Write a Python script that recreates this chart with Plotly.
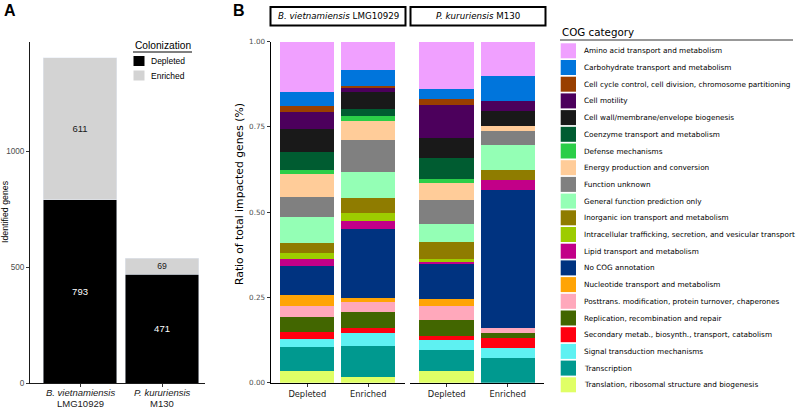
import plotly.graph_objects as go

W, H = 796, 409

# ---------------- DATA ----------------
species = ["B. vietnamiensis LMG10929", "P. kururiensis M130"]
species_italic = ["B. vietnamiensis", "P. kururiensis"]
species_strain = ["LMG10929", "M130"]
depleted_genes = [793, 471]
enriched_genes = [611, 69]

conditions = ["Depleted", "Enriched"]

cog_categories = [
    "Amino acid transport and metabolism",
    "Carbohydrate transport and metabolism",
    "Cell cycle control, cell division, chromosome partitioning",
    "Cell motility",
    "Cell wall/membrane/envelope biogenesis",
    "Coenzyme transport and metabolism",
    "Defense mechanisms",
    "Energy production and conversion",
    "Function unknown",
    "General function prediction only",
    "Inorganic ion transport and metabolism",
    "Intracellular trafficking, secretion, and vesicular transport",
    "Lipid transport and metabolism",
    "No COG annotation",
    "Nucleotide transport and metabolism",
    "Posttrans. modification, protein turnover, chaperones",
    "Replication, recombination and repair",
    "Secondary metab., biosynth., transport, catabolism",
    "Signal transduction mechanisms",
    "Transcription",
    "Translation, ribosomal structure and biogenesis",
]
cog_colors = [
    "#F0A0FF", "#0075DC", "#993F00", "#4C005C", "#191919", "#005C31",
    "#2BCE48", "#FFCC99", "#808080", "#94FFB5", "#8F7C00", "#9DCC00",
    "#C20088", "#003380", "#FFA405", "#FFA8BB", "#426600", "#FF0010",
    "#5EF1F2", "#00998F", "#E0FF66",
]
# gene counts per COG category (same order as cog_categories)
bv_depleted = [117, 33, 13, 41, 52, 42, 10, 53, 46, 62, 23, 13, 17, 67, 25, 25, 36, 17, 18, 56, 27]
bv_enriched = [51, 29, 2, 9, 29, 13, 10, 34, 56, 48, 26, 15, 13, 125, 7, 17, 28, 10, 23, 56, 10]
pk_depleted = [65, 14, 9, 45, 28, 29, 5, 24, 33, 24, 24, 4, 3, 49, 9, 19, 22, 6, 14, 29, 16]
pk_enriched = [7, 5, 0, 2, 3, 0, 0, 1, 3, 5, 2, 0, 2, 28, 0, 1, 1, 2, 2, 5, 0]

colonization = ["Depleted", "Enriched"]
colonization_colors = ["#000000", "#D3D3D3"]

# ---------------- helpers ----------------
def px(x):
    return x / W

def py(y):
    return 1 - y / H

FA = "Liberation Sans, Arial, sans-serif"
FB = "DejaVu Sans, Verdana, sans-serif"

fig = go.Figure()

# ---------------- Panel A ----------------
fig.add_trace(go.Bar(
    x=species, y=depleted_genes, marker_color=colonization_colors[0],
    text=[str(v) for v in depleted_genes], textposition="inside",
    insidetextanchor="middle", textangle=0,
    textfont=dict(color="white", size=9.5, family=FA),
    width=0.9, xaxis="x", yaxis="y", showlegend=False, hoverinfo="skip",
))
fig.add_trace(go.Bar(
    x=species, y=enriched_genes, marker_color=colonization_colors[1],
    text=[str(v) for v in enriched_genes], textposition="inside",
    insidetextanchor="middle", textangle=0,
    textfont=dict(color="#1a1a1a", size=9.5, family=FA),
    width=0.9, xaxis="x", yaxis="y", showlegend=False, hoverinfo="skip",
))

# ---------------- Panel B ----------------
tot_bvd, tot_bve = sum(bv_depleted), sum(bv_enriched)
tot_pkd, tot_pke = sum(pk_depleted), sum(pk_enriched)
n = len(cog_categories)
for i in reversed(range(n)):
    fig.add_trace(go.Bar(
        x=conditions,
        y=[bv_depleted[i] / tot_bvd, bv_enriched[i] / tot_bve],
        marker=dict(color=cog_colors[i], line=dict(width=0)),
        width=0.89, xaxis="x2", yaxis="y2", showlegend=False,
        name=cog_categories[i],
    ))
    fig.add_trace(go.Bar(
        x=conditions,
        y=[pk_depleted[i] / tot_pkd, pk_enriched[i] / tot_pke],
        marker=dict(color=cog_colors[i], line=dict(width=0)),
        width=0.89, xaxis="x3", yaxis="y3", showlegend=False,
        name=cog_categories[i],
    ))

axis_common = dict(showgrid=False, zeroline=False, showline=True, automargin=False,
                   ticks="outside", ticklen=3, tickcolor="#333333")

fig.update_layout(
    width=W, height=H,
    margin=dict(l=0, r=0, t=0, b=0, autoexpand=False),
    paper_bgcolor="white", plot_bgcolor="white",
    barmode="stack",
    xaxis=dict(domain=[px(30), px(205)], anchor="y", type="category",
               range=[-0.61, 1.524], tickvals=species, showticklabels=False,
               linecolor="#1a1a1a", linewidth=1, **axis_common),
    yaxis=dict(domain=[py(383.3), py(41.7)], anchor="x", range=[0, 1474],
               tickvals=[0, 500, 1000], linecolor="#1a1a1a", linewidth=1,
               tickfont=dict(family=FA, size=8.2, color="#4D4D4D"), **axis_common),
    xaxis2=dict(domain=[px(270.7), px(404.8)], anchor="y2", type="category",
                range=[-0.6, 1.6], linecolor="black", linewidth=1.3,
                tickfont=dict(family=FB, size=8.3, color="#1a1a1a"), **axis_common),
    yaxis2=dict(domain=[py(382.8), py(41.5)], anchor="x2", range=[0, 1],
                tickvals=[0, 0.25, 0.5, 0.75, 1.0],
                ticktext=["0.00", "0.25", "0.50", "0.75", "1.00"],
                linecolor="black", linewidth=1.3,
                tickfont=dict(family=FB, size=7.2, color="#4D4D4D"), **axis_common),
    xaxis3=dict(domain=[px(410), px(544.4)], anchor="y3", type="category",
                range=[-0.6, 1.6], linecolor="black", linewidth=1.3,
                tickfont=dict(family=FB, size=8.3, color="#1a1a1a"), **axis_common),
    yaxis3=dict(domain=[py(382.8), py(41.5)], anchor="x3", range=[0, 1],
                showline=False, showticklabels=False, ticks="", showgrid=False,
                zeroline=False, automargin=False),
)

ann = []
shapes = []

# panel letters
ann.append(dict(text="<b>A</b>", x=px(2), y=py(11), xanchor="left", yanchor="middle",
                font=dict(family=FA, size=16, color="black")))
ann.append(dict(text="<b>B</b>", x=px(231), y=py(11), xanchor="left", yanchor="middle",
                font=dict(family=FA, size=16, color="black")))

# Panel A category labels (two lines)
for k, (it, st) in enumerate(zip(species_italic, species_strain)):
    xc = 30 + (0.61 + k) * 82.0
    ann.append(dict(text="<i>" + it + "</i>", x=px(xc), y=py(392), xanchor="center",
                    yanchor="middle", font=dict(family=FA, size=9.5, color="#1a1a1a")))
    ann.append(dict(text=st, x=px(xc), y=py(403), xanchor="center",
                    yanchor="middle", font=dict(family=FA, size=9.5, color="#1a1a1a")))

# axis titles
ann.append(dict(text="Identified genes", x=px(5), y=py(212), textangle=-90,
                xanchor="center", yanchor="middle",
                font=dict(family=FA, size=8.8, color="black")))
ann.append(dict(text="Ratio of total impacted genes (%)", x=px(239), y=py(194),
                textangle=-90, xanchor="center", yanchor="middle",
                font=dict(family=FB, size=10.8, color="black")))

# Panel A legend
ann.append(dict(text="Colonization", x=px(133), y=py(46), xanchor="left", yanchor="middle",
                font=dict(family=FA, size=10.2, color="black")))
shapes.append(dict(type="line", xref="paper", yref="paper", x0=px(133), x1=px(192),
                   y0=py(52), y1=py(52), line=dict(color="black", width=1)))
for j, (lab, col) in enumerate(zip(colonization, colonization_colors)):
    cy = 61 + j * 14.5
    shapes.append(dict(type="rect", xref="paper", yref="paper", x0=px(133.5), x1=px(144.5),
                       y0=py(cy - 5), y1=py(cy + 5), fillcolor=col, line=dict(width=0)))
    ann.append(dict(text=lab, x=px(148.5), y=py(cy), xanchor="left", yanchor="middle",
                    font=dict(family=FA, size=8.5, color="black")))

# facet strips
strips = [("<i>B. vietnamiensis</i> LMG10929", 270.5, 405.5),
          ("<i>P. kururiensis</i> M130", 410.5, 545.5)]
for lab, x0, x1 in strips:
    shapes.append(dict(type="rect", xref="paper", yref="paper", x0=px(x0), x1=px(x1),
                       y0=py(25.5), y1=py(7), line=dict(color="black", width=2),
                       fillcolor="white"))
    ann.append(dict(text=lab, x=px((x0 + x1) / 2), y=py(16), xanchor="center",
                    yanchor="middle", font=dict(family=FB, size=8.7, color="black")))

# Panel B legend
ann.append(dict(text="COG category", x=px(560), y=py(32), xanchor="left", yanchor="middle",
                font=dict(family=FB, size=10.3, color="black")))
shapes.append(dict(type="line", xref="paper", yref="paper", x0=px(560), x1=px(793),
                   y0=py(40), y1=py(40), line=dict(color="#333333", width=1)))
for i, (lab, col) in enumerate(zip(cog_categories, cog_colors)):
    cy = 50.8 + i * 16.7
    shapes.append(dict(type="rect", xref="paper", yref="paper", x0=px(560.7), x1=px(576),
                       y0=py(cy - 7.5), y1=py(cy + 7.5), fillcolor=col, line=dict(width=0)))
    ann.append(dict(text=lab, x=px(582), y=py(cy), xanchor="left", yanchor="middle",
                    font=dict(family=FB, size=7.3, color="black")))

for a in ann:
    a.setdefault("xref", "paper")
    a.setdefault("yref", "paper")
    a.setdefault("showarrow", False)

fig.update_layout(annotations=ann, shapes=shapes)

fig.write_html("out.html", config={"displayModeBar": False},
               post_script="document.body.style.margin='0';document.body.style.overflow='hidden';")
